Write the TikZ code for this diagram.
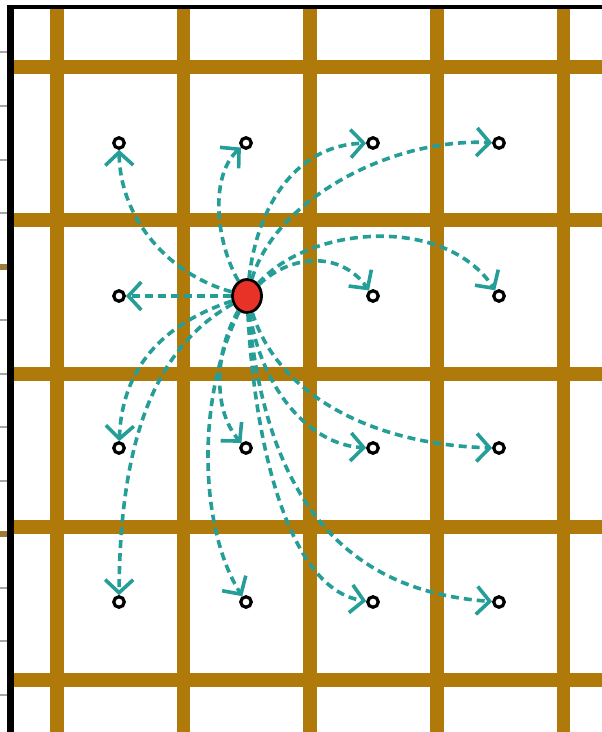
\documentclass[tikz,border=0pt]{standalone}
\usetikzlibrary{arrows.meta,shapes.geometric}
\definecolor{gridbrown}{RGB}{176,122,10}
\definecolor{arrteal}{RGB}{38,158,152}
\definecolor{hubred}{RGB}{232,50,40}
\begin{document}
\begin{tikzpicture}[x=1pt,y=-1pt,
  vline/.style={gridbrown, line width=13.5pt},
  hline/.style={gridbrown, line width=14pt},
  dot/.style={circle, draw=black, line width=3.2pt, fill=white, minimum size=10.5pt, inner sep=0pt},
  hub/.style={ellipse, draw=black, line width=2.8pt, fill=hubred, minimum width=29pt, minimum height=33pt, inner sep=0pt},
  arr/.style={arrteal, line width=3.6pt, dash pattern=on 8pt off 5pt, -{Straight Barb[length=13pt,width=28pt]}},
  gtick/.style={gray!70, line width=2.5pt},
  btick/.style={gridbrown!60!gray, line width=6pt},
]
\useasboundingbox[fill=white] (0,0) rectangle (602,732);
% ticks
\foreach \y in {52,106,160,213,320,374,427,481,588,641,695}
  \draw[gtick] (0,\y) -- (8,\y);
\foreach \y in {267,534}
  \draw[btick] (0,\y) -- (8,\y);
% grid
\foreach \x in {57,183.5,310,437,563.5}
  \draw[vline] (\x,8) -- (\x,732);
\foreach \y in {67,220,374,527,680}
  \draw[hline] (14,\y) -- (602,\y);
% borders
\draw[black, line width=3.5pt] (7,7) -- (602,7);
\draw[black, line width=7pt] (10.5,5.25) -- (10.5,732);
% nodes
\node[hub] (c) at (247,296) {};
\node[dot] (a11) at (119,143) {};
\node[dot] (a12) at (246,143) {};
\node[dot] (a13) at (373,143) {};
\node[dot] (a14) at (499,143) {};
\node[dot] (a21) at (119,296) {};
\node[dot] (a23) at (373,296) {};
\node[dot] (a24) at (499,296) {};
\node[dot] (a31) at (119,448) {};
\node[dot] (a32) at (246,448) {};
\node[dot] (a33) at (373,448) {};
\node[dot] (a34) at (499,448) {};
\node[dot] (a41) at (119,602) {};
\node[dot] (a42) at (246,602) {};
\node[dot] (a43) at (373,602) {};
\node[dot] (a44) at (499,602) {};
% arrows
\draw[arr] (c) .. controls (170,275) and (120,220) .. (a11);
\draw[arr] (c) .. controls (215,240) and (210,175) .. (a12);
\draw[arr] (c) .. controls (258,200) and (300,145) .. (a13);
\draw[arr] (c) .. controls (275,200) and (390,138) .. (a14);
\draw[arr] (c) -- (a21);
\draw[arr] (c) .. controls (290,255) and (340,250) .. (a23);
\draw[arr] (c) .. controls (310,225) and (445,215) .. (a24);
\draw[arr] (c) .. controls (160,325) and (122,370) .. (a31);
\draw[arr] (c) .. controls (215,350) and (212,410) .. (a32);
\draw[arr] (c) .. controls (262,390) and (310,445) .. (a33);
\draw[arr] (c) .. controls (280,400) and (380,445) .. (a34);
\draw[arr] (c) .. controls (150,350) and (120,450) .. (a41);
\draw[arr] (c) .. controls (195,400) and (200,530) .. (a42);
\draw[arr] (c) .. controls (255,450) and (290,590) .. (a43);
\draw[arr] (c) .. controls (265,480) and (330,590) .. (a44);
\end{tikzpicture}
\end{document}
